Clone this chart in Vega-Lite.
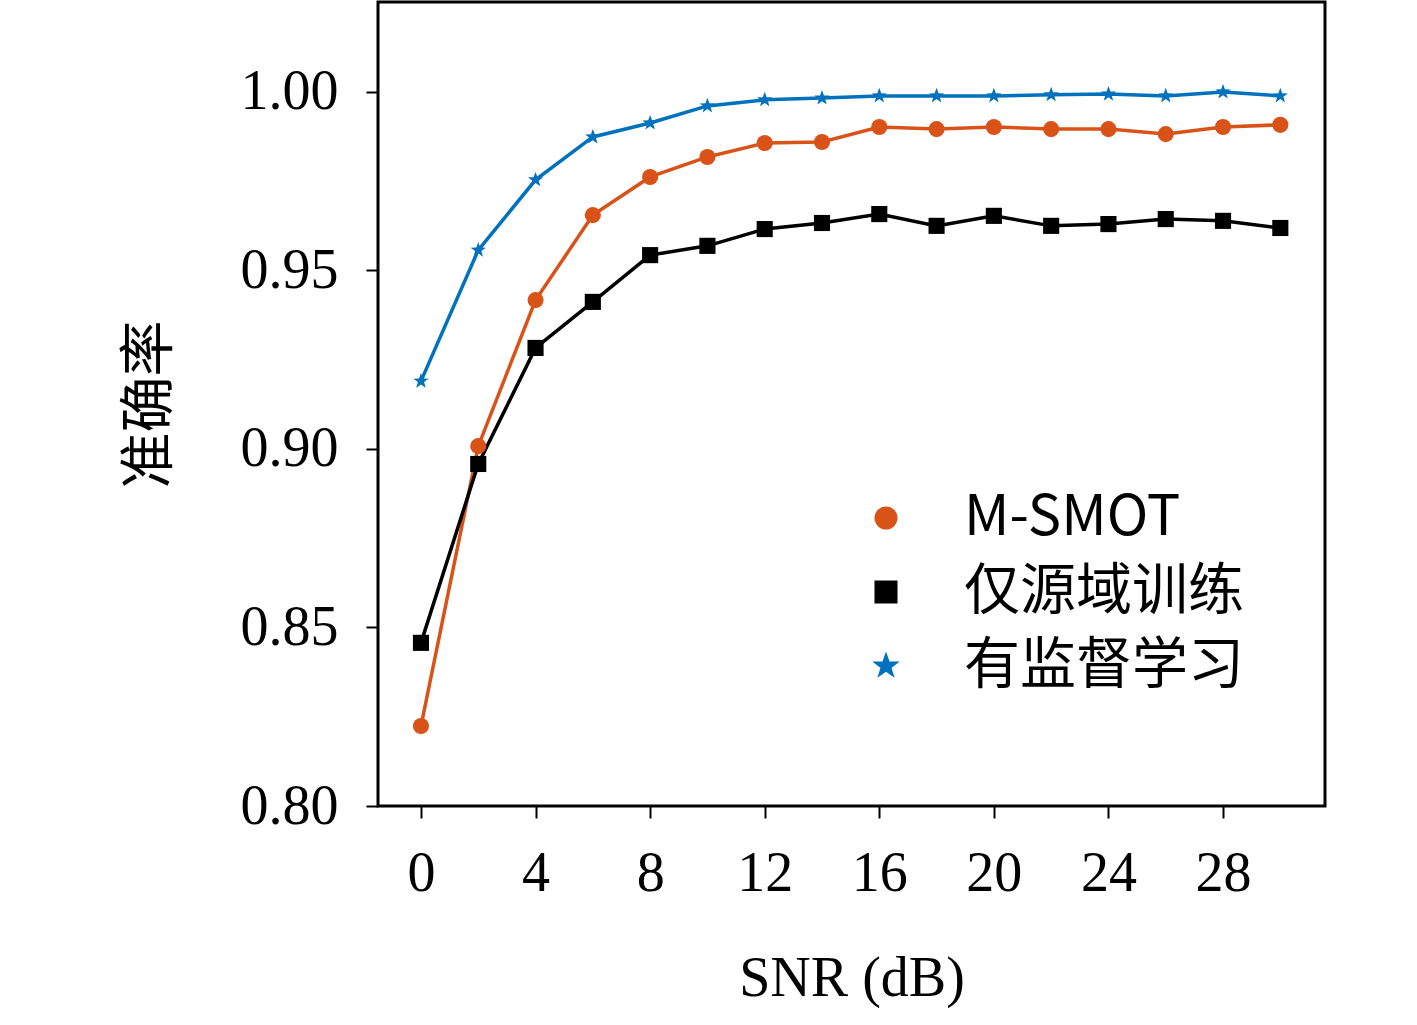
{
  "$schema": "https://vega.github.io/schema/vega-lite/v6.json",
  "width": 947,
  "height": 804,
  "autosize": "none",
  "padding": {"left": 378, "top": 2, "right": 92, "bottom": 219},
  "background": "white",
  "data": {
    "values": [
      {"snr": 0, "s": "M-SMOT", "acc": 0.8224}, {"snr": 2, "s": "M-SMOT", "acc": 0.9008}, {"snr": 4, "s": "M-SMOT", "acc": 0.9417}, {"snr": 6, "s": "M-SMOT", "acc": 0.9655},
      {"snr": 8, "s": "M-SMOT", "acc": 0.9762}, {"snr": 10, "s": "M-SMOT", "acc": 0.9818}, {"snr": 12, "s": "M-SMOT", "acc": 0.9857}, {"snr": 14, "s": "M-SMOT", "acc": 0.986},
      {"snr": 16, "s": "M-SMOT", "acc": 0.9902}, {"snr": 18, "s": "M-SMOT", "acc": 0.9896}, {"snr": 20, "s": "M-SMOT", "acc": 0.9902}, {"snr": 22, "s": "M-SMOT", "acc": 0.9896},
      {"snr": 24, "s": "M-SMOT", "acc": 0.9896}, {"snr": 26, "s": "M-SMOT", "acc": 0.9882}, {"snr": 28, "s": "M-SMOT", "acc": 0.9902}, {"snr": 30, "s": "M-SMOT", "acc": 0.9908},
      {"snr": 0, "s": "仅源域训练", "acc": 0.8457}, {"snr": 2, "s": "仅源域训练", "acc": 0.8958}, {"snr": 4, "s": "仅源域训练", "acc": 0.9283}, {"snr": 6, "s": "仅源域训练", "acc": 0.9412},
      {"snr": 8, "s": "仅源域训练", "acc": 0.9543}, {"snr": 10, "s": "仅源域训练", "acc": 0.9569}, {"snr": 12, "s": "仅源域训练", "acc": 0.9616}, {"snr": 14, "s": "仅源域训练", "acc": 0.9633},
      {"snr": 16, "s": "仅源域训练", "acc": 0.9658}, {"snr": 18, "s": "仅源域训练", "acc": 0.9625}, {"snr": 20, "s": "仅源域训练", "acc": 0.9653}, {"snr": 22, "s": "仅源域训练", "acc": 0.9625},
      {"snr": 24, "s": "仅源域训练", "acc": 0.963}, {"snr": 26, "s": "仅源域训练", "acc": 0.9644}, {"snr": 28, "s": "仅源域训练", "acc": 0.9639}, {"snr": 30, "s": "仅源域训练", "acc": 0.9619},
      {"snr": 0, "s": "有监督学习", "acc": 0.919}, {"snr": 2, "s": "有监督学习", "acc": 0.9557}, {"snr": 4, "s": "有监督学习", "acc": 0.9754}, {"snr": 6, "s": "有监督学习", "acc": 0.9874},
      {"snr": 8, "s": "有监督学习", "acc": 0.9913}, {"snr": 10, "s": "有监督学习", "acc": 0.9961}, {"snr": 12, "s": "有监督学习", "acc": 0.9978}, {"snr": 14, "s": "有监督学习", "acc": 0.9983},
      {"snr": 16, "s": "有监督学习", "acc": 0.9989}, {"snr": 18, "s": "有监督学习", "acc": 0.9989}, {"snr": 20, "s": "有监督学习", "acc": 0.9989}, {"snr": 22, "s": "有监督学习", "acc": 0.9992},
      {"snr": 24, "s": "有监督学习", "acc": 0.9994}, {"snr": 26, "s": "有监督学习", "acc": 0.9989}, {"snr": 28, "s": "有监督学习", "acc": 1.0}, {"snr": 30, "s": "有监督学习", "acc": 0.9989}
    ]
  },
  "encoding": {
    "x": {
      "field": "snr", "type": "quantitative", "title": "SNR (dB)",
      "scale": {"domain": [-1.5, 31.56], "nice": false, "zero": false},
      "axis": {"values": [0, 4, 8, 12, 16, 20, 24, 28], "grid": false, "domain": false, "tickSize": 12, "tickWidth": 2, "tickColor": "black", "labelPadding": 28, "titlePadding": 50}
    },
    "y": {
      "field": "acc", "type": "quantitative", "title": "准确率",
      "scale": {"domain": [0.8, 1.0252], "nice": false, "zero": false},
      "axis": {"values": [0.8, 0.85, 0.9, 0.95, 1.0], "format": ".2f", "grid": false, "domain": false, "tickSize": 12, "tickWidth": 2, "tickColor": "black", "labelPadding": 28, "titlePadding": 62, "titleFont": "Noto Sans CJK SC", "titleFontWeight": "normal"}
    },
    "color": {
      "field": "s", "type": "nominal", "sort": ["M-SMOT", "仅源域训练", "有监督学习"],
      "scale": {"domain": ["M-SMOT", "仅源域训练", "有监督学习"], "range": ["#d95319", "#000000", "#0072bd"]},
      "legend": {"orient": "none", "legendX": 480, "legendY": 488, "title": null, "symbolSize": 400, "labelFontSize": 56, "labelFont": "Noto Sans CJK SC", "labelLimit": 0, "rowPadding": 18, "symbolStrokeWidth": 3, "labelOffset": 50}
    },
    "shape": {
      "field": "s", "type": "nominal",
      "scale": {"domain": ["M-SMOT", "仅源域训练", "有监督学习"], "range": ["circle", "square", "M0,-1L0.24,-0.33L0.95,-0.31L0.38,0.12L0.59,0.81L0,0.4L-0.59,0.81L-0.38,0.12L-0.95,-0.31L-0.24,-0.33Z"]}
    }
  },
  "layer": [
    {"mark": {"type": "line", "strokeWidth": 3.5}},
    {"mark": {"type": "point", "filled": true, "size": 260, "opacity": 1}}
  ],
  "config": {
    "view": {"stroke": "black", "strokeWidth": 3},
    "axis": {"labelFont": "Liberation Serif", "titleFont": "Liberation Serif", "labelFontSize": 56, "titleFontSize": 56, "labelColor": "black", "titleColor": "black", "titleFontWeight": "normal"},
    "legend": {"labelColor": "black"}
  }
}
